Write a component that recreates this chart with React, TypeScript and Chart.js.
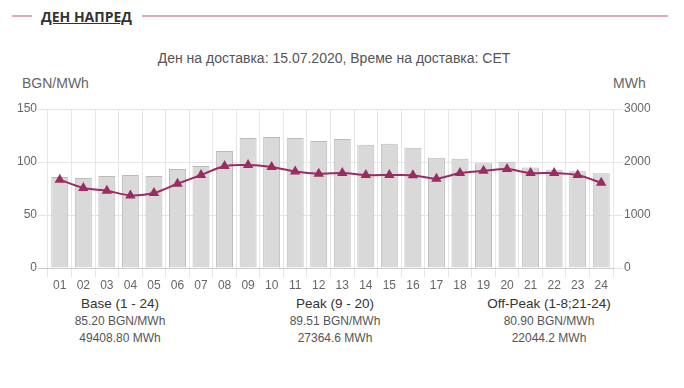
import React, { useEffect, useRef } from "react";
import { Chart, registerables } from "chart.js";

Chart.register(...registerables);

const hours = ["01","02","03","04","05","06","07","08","09","10","11","12","13","14","15","16","17","18","19","20","21","22","23","24"];
const prices = [83.3, 75.5, 72.9, 68.5, 70.7, 79.5, 87.7, 96.2, 97.2, 95.3, 91.1, 89.0, 89.6, 87.7, 87.7, 87.5, 84.2, 89.6, 91.7, 93.3, 89.6, 89.6, 87.7, 80.4];
const volumes = [1717, 1698, 1736, 1755, 1736, 1868, 1925, 2208, 2453, 2472, 2453, 2396, 2434, 2325, 2344, 2269, 2081, 2063, 1975, 2006, 1894, 1856, 1825, 1787];

const summaryTitles = ["Base (1 - 24)", "Peak (9 - 20)", "Off-Peak (1-8;21-24)"];
const summaryPrices = ["85.20 BGN/MWh", "89.51 BGN/MWh", "80.90 BGN/MWh"];
const summaryVolumes = ["49408.80 MWh", "27364.6 MWh", "22044.2 MWh"];
const summaryCenters = [120, 335, 549];

const FONT = "'Liberation Sans', Arial, sans-serif";

export default function App() {
  const ref = useRef<HTMLCanvasElement | null>(null);

  useEffect(() => {
    if (!ref.current) return;
    const chart = new Chart(ref.current, {
      type: "bar",
      data: {
        labels: hours,
        datasets: [
          {
            type: "line",
            label: "Цена",
            data: prices,
            yAxisID: "y",
            borderColor: "#9b2c63",
            backgroundColor: "#9b2c63",
            borderWidth: 2,
            pointStyle: "triangle",
            pointRadius: 6,
            pointBorderWidth: 0,
            tension: 0.25,
            order: 0,
          },
          {
            type: "bar",
            label: "Обем",
            data: volumes,
            yAxisID: "y1",
            backgroundColor: "#d9d9d9",
            borderColor: "#bababa",
            borderWidth: 1,
            categoryPercentage: 1,
            barPercentage: 0.72,
            order: 1,
          },
        ],
      },
      options: {
        animation: false,
        responsive: false,
        maintainAspectRatio: false,
        layout: { padding: { top: 14, left: 0, right: 0, bottom: 0 } },
        plugins: {
          legend: { display: false },
          tooltip: { enabled: false },
          title: { display: false },
        },
        scales: {
          x: {
            grid: {
              color: "#e6e6e6",
              tickLength: 9,
              offset: true,
            },
            border: { color: "#cccccc" },
            ticks: {
              color: "#666666",
              font: { family: FONT, size: 12 },
              padding: 1,
              maxRotation: 0,
              autoSkip: false,
            },
            afterFit: (s: any) => { s.height = 27; },
          },
          y: {
            position: "left",
            min: 0,
            max: 150,
            ticks: {
              stepSize: 50,
              color: "#666666",
              font: { family: FONT, size: 12 },
              padding: 1,
              callback: (v: any) => String(v),
            },
            grid: {
              color: (ctx: any) => (ctx.tick && ctx.tick.value === 0 ? "#cccccc" : "#e6e6e6"),
              tickLength: 10,
            },
            border: { display: false },
            afterFit: (s: any) => { s.width = 48; },
          },
          y1: {
            position: "right",
            min: 0,
            max: 3000,
            ticks: {
              stepSize: 1000,
              color: "#666666",
              font: { family: FONT, size: 12 },
              padding: 1,
              callback: (v: any) => String(v),
            },
            grid: {
              drawOnChartArea: false,
              color: "#e6e6e6",
              tickLength: 10,
            },
            border: { display: false },
            afterFit: (s: any) => { s.width = 71; },
          },
        },
      },
    });
    return () => chart.destroy();
  }, []);

  return (
    <div style={{ position: "absolute", left: 0, top: 0, width: 684, height: 388, background: "#fff", fontFamily: FONT, overflow: "hidden" }}>
      <div style={{ position: "absolute", left: 12, top: 15, width: 20, height: 2, background: "#dcaab9" }} />
      <div style={{ position: "absolute", left: 142, top: 15, width: 526, height: 2, background: "#dcaab9" }} />
      <div style={{ position: "absolute", left: 41, top: 8, height: 18, lineHeight: "18px", fontFamily: "'Open Sans', sans-serif", fontWeight: 700, fontSize: 14, color: "#333", textDecoration: "underline" }}>
        ДЕН НАПРЕД
      </div>
      <div style={{ position: "absolute", left: 0, top: 50, width: 668, textAlign: "center", fontSize: 14, lineHeight: "17px", color: "#555" }}>
        Ден на доставка: 15.07.2020, Време на доставка: CET
      </div>
      <div style={{ position: "absolute", left: 22, top: 75, fontSize: 14, lineHeight: "17px", color: "#666" }}>BGN/MWh</div>
      <div style={{ position: "absolute", left: 613, top: 75, fontSize: 14, lineHeight: "17px", color: "#666" }}>MWh</div>
      <canvas ref={ref} width={684} height={200} style={{ position: "absolute", left: 0, top: 95, width: 684, height: 200 }} />
      {summaryTitles.map((t, i) => (
        <div key={t} style={{ position: "absolute", left: summaryCenters[i] - 100, width: 200, top: 296, textAlign: "center", color: "#333" }}>
          <div style={{ fontSize: 13.5, lineHeight: "16px", height: 17 }}>{t}</div>
          <div style={{ fontSize: 12, lineHeight: "17px", color: "#555" }}>{summaryPrices[i]}</div>
          <div style={{ fontSize: 12, lineHeight: "17px", color: "#555" }}>{summaryVolumes[i]}</div>
        </div>
      ))}
    </div>
  );
}
